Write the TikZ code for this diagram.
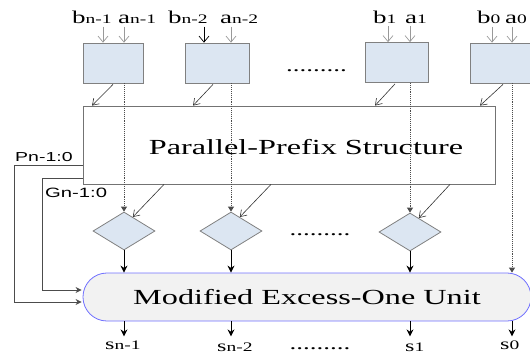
\documentclass[tikz,border=0pt]{standalone}
\usepackage{fontspec}
\setmainfont{Liberation Serif}[FakeStretch=1.5]
\newfontfamily\sfwide{Liberation Sans}[FakeStretch=1.5]
\usetikzlibrary{arrows.meta,calc,shapes.geometric}
\definecolor{boxblue}{HTML}{DCE6F2}
\definecolor{eoufill}{HTML}{F2F2F2}
\definecolor{eouline}{HTML}{7070FF}
\definecolor{edgegray}{HTML}{808080}
\newcommand\inlbl[2]{{\fontsize{18}{19}\selectfont #1}{\fontsize{13}{14}\selectfont #2}}
\newcommand\outlbl[2]{{\fontsize{16}{17}\selectfont #1}{\fontsize{13}{14}\selectfont #2}}
\begin{document}
\begin{tikzpicture}[x=1pt,y=-1pt,
  inbox/.style={draw=edgegray, fill=boxblue, line width=0.8pt, inner sep=0pt, minimum height=40pt},
  pbox/.style={draw=edgegray!90!black, line width=0.8pt, inner sep=0pt},
  dbox/.style={diamond, draw=edgegray, fill=boxblue, line width=0.8pt, inner sep=0pt, minimum width=62pt, minimum height=38pt},
  eoubox/.style={draw=eouline, fill=eoufill, line width=0.8pt, rounded corners=23.9pt, minimum width=448pt, minimum height=48pt, inner sep=0pt},
  bigtext/.style={font=\fontsize{21.5}{24}\selectfont},
  inarr/.style={draw=gray!80, line width=0.7pt, -{Straight Barb[length=6pt,width=10pt]}},
  diag/.style={draw=gray!40!black, line width=0.6pt, -{Straight Barb[length=6pt,width=8pt]}},
  dotarr/.style={draw=gray!60!black, line width=0.9pt, densely dotted, -{Triangle[length=5pt,width=6pt]}},
  solarr/.style={draw=black, line width=0.9pt, -{Stealth[length=7pt,width=7pt]}},
  fb/.style={draw=gray!60!black, line width=0.9pt, -{Stealth[length=6pt,width=6pt]}},
  dotrow/.style={font=\fontsize{18}{18}\selectfont, inner sep=0pt, anchor=base}
]
\useasboundingbox (0,0) rectangle (530,354);

% input boxes
\node[inbox, minimum width=60pt] (in1) at (113,63) {};
\node[inbox, minimum width=64pt] (in2) at (217,63) {};
\node[inbox, minimum width=63pt] (in3) at (396.5,62.5) {};
\node[inbox, minimum width=63pt] (in4) at (501.5,63) {};

% input labels
\node[anchor=base west, inner sep=0pt] (lb1) at (72,23) {\inlbl{b}{n-1}};
\node[anchor=base west, inner sep=0pt] (la1) at (118,23) {\inlbl{a}{n-1}};
\node[anchor=base west, inner sep=0pt] (lb2) at (168,23) {\inlbl{b}{n-2}};
\node[anchor=base west, inner sep=0pt] (la2) at (220,23) {\inlbl{a}{n-2}};
\node[anchor=base west, inner sep=0pt] (lb3) at (373,23) {\inlbl{b}{1}};
\node[anchor=base west, inner sep=0pt] (la3) at (405,23) {\inlbl{a}{1}};
\node[anchor=base west, inner sep=0pt] (lb4) at (477,23) {\inlbl{b}{0}};
\node[anchor=base west, inner sep=0pt] (la4) at (505,23) {\inlbl{a}{0}};

% input arrows
\draw[inarr] ($(in1.north)+(-10,-16)$) -- ++(0,16);
\draw[inarr] ($(in1.north)+(11,-16)$) -- ++(0,16);
\draw[inarr, draw=black] ($(in2.north)+(-13,-16)$) -- ++(0,16);
\draw[inarr] ($(in2.north)+(14,-16)$) -- ++(0,16);
\draw[inarr] ($(in3.north)+(-8.5,-16)$) -- ++(0,16);
\draw[inarr] ($(in3.north)+(13.5,-16)$) -- ++(0,16);
\draw[inarr] ($(in4.north)+(-9.5,-16)$) -- ++(0,16);
\draw[inarr] ($(in4.north)+(10.5,-16)$) -- ++(0,16);

% dots between input boxes
\node[dotrow] (dots1) at (316.5,71) {.........};

% parallel prefix structure
\node[pbox, minimum width=412pt, minimum height=78pt] (prefix) at (289,145) {};
\node[bigtext, inner sep=0pt] (ptext) at (306,147) {Parallel-Prefix Structure};

% diagonal arrows from input boxes into prefix
\draw[diag] ($(in1.south)+(0,1)$) -- ($(in1.south |- prefix.north)+(-21,0)$);
\draw[diag] ($(in2.south)+(-4,1)$) -- ($(in2.south |- prefix.north)+(-24,0)$);
\draw[diag] ($(in3.south)+(-1.5,1)$) -- ($(in3.south |- prefix.north)+(-21.5,0)$);
\draw[diag] ($(in4.south)+(1.5,1)$) -- ($(in4.south |- prefix.north)+(-21.5,0)$);

% diamonds
\node[dbox] (d1) at (124,231) {};
\node[dbox] (d2) at (231,231) {};
\node[dbox] (d3) at (410,232) {};
\node[dotrow] (dots2) at (320,235) {.........};

% EOU
\node[eoubox, bigtext] (eou) at (307,297) {Modified Excess-One Unit};

% dotted a-lines
\draw[dotarr] (in1.south -| d1.north) -- (d1.north);
\draw[dotarr] (in2.south -| d2.north) -- (d2.north);
\draw[dotarr] (in3.south -| d3.north) -- (d3.north);
\draw[dotarr] ($(in4.south)+(10.5,0)$) -- ($(in4.south |- eou.north)+(10.5,0)$);

% diagonal arrows prefix -> diamonds
\draw[diag] ($(d1.north |- prefix.south)+(40,0)$) -- ($(d1.north)!0.28!(d1.east)$);
\draw[diag] ($(d2.north |- prefix.south)+(40,0)$) -- ($(d2.north)!0.28!(d2.east)$);
\draw[diag] ($(d3.north |- prefix.south)+(40,0)$) -- ($(d3.north)!0.28!(d3.east)$);

% diamonds -> EOU
\draw[solarr] (d1.south) -- (d1.south |- eou.north);
\draw[solarr] (d2.south) -- (d2.south |- eou.north);
\draw[solarr] (d3.south) -- (d3.south |- eou.north);

% P and G feedback
\draw[fb] ($(prefix.west)+(0,20)$) -- ++(-68,0) -- ++(0,137) -- ($(eou.west)+(-1,5)$);
\draw[fb] ($(prefix.west)+(0,33)$) -- ++(-40,0) -- ++(0,112) -- ($(eou.west)+(-1,-7)$);
\node[anchor=base west, inner sep=0pt, font=\sfwide\fontsize{13}{14}\selectfont] (plbl) at (15,161) {Pn-1:0};
\node[anchor=base west, inner sep=0pt, font=\sfwide\fontsize{13.5}{14}\selectfont] (glbl) at (45,197) {Gn-1:0};

% outputs
\draw[solarr] (eou.south -| d1.south) -- ++(0,15);
\draw[solarr] (eou.south -| d2.south) -- ++(0,15);
\draw[solarr] (eou.south -| d3.south) -- ++(0,15);
\draw[solarr] ($(eou.south)+(205,0)$) -- ++(0,15);
\node[anchor=base west, inner sep=0pt] (s1) at (105,349) {\outlbl{s}{n-1}};
\node[anchor=base west, inner sep=0pt] (s2) at (217,351) {\outlbl{s}{n-2}};
\node[anchor=base west, inner sep=0pt] (s3) at (405,351) {\outlbl{s}{1}};
\node[anchor=base west, inner sep=0pt] (s4) at (500,349) {\outlbl{s}{0}};
\node[dotrow] (dots3) at (320,349) {.........};
\end{tikzpicture}
\end{document}
